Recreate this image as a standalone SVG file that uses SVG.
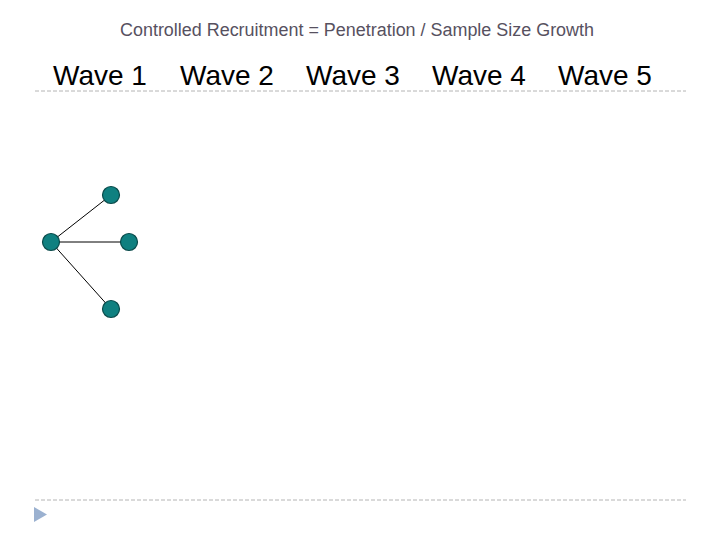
<svg xmlns="http://www.w3.org/2000/svg" width="720" height="540" viewBox="0 0 720 540">
<style>
.title{font-family:"Liberation Sans",Arial,sans-serif;font-size:18px;fill:#57515f}
.wave{font-family:"Liberation Sans",Arial,sans-serif;font-size:28px;fill:#000}
.rule{stroke:#b4b4b4;stroke-width:1;stroke-dasharray:4 2;fill:none}
.node{fill:#0f8080;stroke:#0a4a4a;stroke-width:1.2}
.edge{stroke:#000;stroke-width:1;fill:none}
</style>
<rect width="720" height="540" fill="#fff"/>
<text class="title" x="357" y="36" text-anchor="middle" textLength="474" lengthAdjust="spacingAndGlyphs">Controlled Recruitment = Penetration / Sample Size Growth</text>
<g id="labels">
<text class="wave" x="53" y="85">Wave 1</text>
<text class="wave" x="180" y="85">Wave 2</text>
<text class="wave" x="306" y="85">Wave 3</text>
<text class="wave" x="432" y="85">Wave 4</text>
<text class="wave" x="558" y="85">Wave 5</text>
</g>
<line class="rule" x1="35" y1="91" x2="686" y2="91"/>
<line class="rule" x1="35" y1="500" x2="686" y2="500"/>
<polygon points="34,507 47,514.5 34,522" fill="#9bb1d0"/>
<g id="connectors">
<line class="edge" x1="51" y1="242" x2="111" y2="195"/>
<line class="edge" x1="51" y1="242" x2="129" y2="242"/>
<line class="edge" x1="51" y1="242" x2="111" y2="309"/>
</g>
<g id="n0"><circle class="node" cx="51" cy="242" r="8.5"/></g>
<g id="n1"><circle class="node" cx="111" cy="195" r="8.5"/></g>
<g id="n2"><circle class="node" cx="129" cy="242" r="8.5"/></g>
<g id="n3"><circle class="node" cx="111" cy="309" r="8.5"/></g>
</svg>
